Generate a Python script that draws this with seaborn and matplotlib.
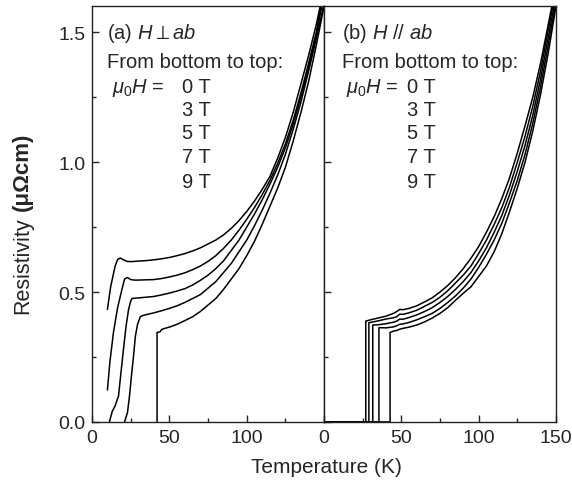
import pandas as pd
import seaborn as sns
import matplotlib.pyplot as plt
from matplotlib.ticker import MultipleLocator

# fields (T), bottom to top
fields = ["0 T", "3 T", "5 T", "7 T", "9 T"]

# (a) H perp ab : temperature (K) / resistivity (uOhm cm)
a0_T = [42, 42, 44, 45, 47, 50, 55, 60, 65, 70, 75, 80, 85, 90, 95, 100, 105, 110, 115, 120, 125, 130, 135, 140, 145, 150]
a0_r = [0.0, 0.344, 0.347, 0.356, 0.36, 0.365, 0.376, 0.39, 0.405, 0.425, 0.45, 0.475, 0.51, 0.55, 0.59, 0.64, 0.695, 0.76, 0.83, 0.90, 0.98, 1.08, 1.19, 1.31, 1.45, 1.60]
a3_T = [21, 22.9, 24.2, 25.5, 26.8, 28, 29.4, 31.2, 33, 35, 40, 45, 50, 55, 60, 65, 70, 75, 80, 85, 90, 95, 100, 105, 110, 115, 120, 125, 130, 135, 140, 145, 150]
a3_r = [0.0, 0.037, 0.10, 0.18, 0.254, 0.33, 0.376, 0.405, 0.41, 0.413, 0.42, 0.428, 0.437, 0.447, 0.46, 0.475, 0.49, 0.515, 0.54, 0.575, 0.61, 0.655, 0.70, 0.755, 0.815, 0.88, 0.95, 1.03, 1.125, 1.23, 1.35, 1.475, 1.61]
a5_T = [11.2, 13, 14.9, 17.1, 18.5, 20.3, 22, 23.6, 25, 25.8, 29, 35, 40, 45, 50, 55, 60, 65, 70, 75, 80, 85, 90, 95, 100, 105, 110, 115, 120, 125, 130, 135, 140, 145, 148.5]
a5_r = [0.0, 0.04, 0.062, 0.10, 0.18, 0.28, 0.37, 0.433, 0.466, 0.475, 0.477, 0.48, 0.483, 0.489, 0.496, 0.504, 0.513, 0.527, 0.545, 0.565, 0.59, 0.62, 0.66, 0.70, 0.75, 0.80, 0.855, 0.915, 0.98, 1.055, 1.145, 1.25, 1.365, 1.49, 1.60]
a7_T = [9.9, 11.5, 13.8, 16.5, 19.3, 21, 22.7, 25, 27, 30, 35, 40, 45, 50, 55, 60, 65, 70, 75, 80, 85, 90, 95, 100, 105, 110, 115, 120, 125, 130, 135, 140, 145, 148]
a7_r = [0.123, 0.23, 0.344, 0.44, 0.51, 0.55, 0.556, 0.548, 0.546, 0.546, 0.547, 0.548, 0.552, 0.558, 0.565, 0.574, 0.586, 0.600, 0.618, 0.64, 0.668, 0.70, 0.738, 0.78, 0.825, 0.875, 0.93, 0.995, 1.07, 1.16, 1.265, 1.38, 1.50, 1.60]
a9_T = [9.9, 12, 14.9, 16.5, 18.2, 20, 22.5, 25, 30, 35, 40, 45, 50, 55, 60, 65, 70, 75, 80, 85, 90, 95, 100, 105, 110, 115, 120, 125, 130, 135, 140, 145, 147.5]
a9_r = [0.433, 0.52, 0.60, 0.625, 0.631, 0.625, 0.618, 0.617, 0.619, 0.621, 0.624, 0.628, 0.633, 0.64, 0.648, 0.658, 0.670, 0.685, 0.700, 0.72, 0.745, 0.775, 0.81, 0.85, 0.895, 0.945, 1.015, 1.095, 1.19, 1.30, 1.41, 1.53, 1.60]

# (b) H // ab
b0_T = [0, 42.7, 42.7, 45, 47, 49, 51, 55, 60, 65, 70, 75, 80, 85, 90, 95, 100, 105, 110, 115, 120, 125, 130, 135, 140, 145, 150]
b0_r = [0, 0, 0.344, 0.35, 0.352, 0.357, 0.36, 0.365, 0.373, 0.385, 0.40, 0.418, 0.44, 0.468, 0.495, 0.52, 0.56, 0.60, 0.655, 0.725, 0.81, 0.90, 1.00, 1.12, 1.26, 1.42, 1.60]
b3_T = [0, 35.5, 35.5, 40, 45, 47, 49, 51, 55, 60, 65, 70, 75, 80, 85, 90, 95, 100, 105, 110, 115, 120, 125, 130, 135, 140, 145, 150]
b3_r = [0, 0, 0.363, 0.362, 0.366, 0.37, 0.376, 0.377, 0.383, 0.393, 0.405, 0.418, 0.437, 0.46, 0.485, 0.515, 0.55, 0.595, 0.645, 0.70, 0.765, 0.845, 0.93, 1.03, 1.15, 1.29, 1.45, 1.62]
b5_T = [0, 31.5, 31.5, 35, 40, 45, 47, 49, 51, 55, 60, 65, 70, 75, 80, 85, 90, 95, 100, 105, 110, 115, 120, 125, 130, 135, 140, 145, 150]
b5_r = [0, 0, 0.373, 0.374, 0.378, 0.384, 0.388, 0.396, 0.395, 0.402, 0.412, 0.425, 0.44, 0.46, 0.483, 0.51, 0.54, 0.575, 0.62, 0.67, 0.73, 0.795, 0.875, 0.965, 1.065, 1.18, 1.32, 1.48, 1.64]
b7_T = [0, 29, 29, 30, 35, 40, 45, 47, 49, 51, 55, 60, 65, 70, 75, 80, 85, 90, 95, 100, 105, 110, 115, 120, 125, 130, 135, 140, 145, 150]
b7_r = [0, 0, 0.382, 0.383, 0.389, 0.396, 0.401, 0.405, 0.415, 0.414, 0.42, 0.43, 0.445, 0.46, 0.48, 0.505, 0.535, 0.565, 0.60, 0.648, 0.70, 0.76, 0.825, 0.905, 1.00, 1.10, 1.215, 1.35, 1.51, 1.66]
b9_T = [0, 27, 27, 30, 35, 40, 45, 47, 49, 51, 55, 60, 65, 70, 75, 80, 85, 90, 95, 100, 105, 110, 115, 120, 125, 130, 135, 140, 145, 150]
b9_r = [0, 0, 0.388, 0.393, 0.400, 0.407, 0.418, 0.425, 0.433, 0.432, 0.437, 0.447, 0.462, 0.478, 0.50, 0.525, 0.555, 0.59, 0.63, 0.675, 0.73, 0.79, 0.86, 0.94, 1.035, 1.14, 1.25, 1.38, 1.53, 1.68]


def long_df(pairs):
    parts = []
    for name, (t, r) in zip(fields, pairs):
        parts.append(pd.DataFrame({"T": t, "rho": r, "field": name}))
    return pd.concat(parts, ignore_index=True)


df_a = long_df([(a0_T, a0_r), (a3_T, a3_r), (a5_T, a5_r), (a7_T, a7_r), (a9_T, a9_r)])
df_b = long_df([(b0_T, b0_r), (b3_T, b3_r), (b5_T, b5_r), (b7_T, b7_r), (b9_T, b9_r)])

sns.set_style("ticks")
plt.rcParams['font.family'] = ['Liberation Sans', 'DejaVu Sans']
plt.rcParams['mathtext.fontset'] = 'custom'
plt.rcParams['mathtext.rm'] = 'Liberation Sans'
plt.rcParams['mathtext.it'] = 'Liberation Sans:italic'

fig, (ax1, ax2) = plt.subplots(1, 2, figsize=(5.72, 4.85), dpi=100, sharey=True)
fig.subplots_adjust(left=0.161, right=0.972, bottom=0.128, top=0.985, wspace=0)

for ax, df in [(ax1, df_a), (ax2, df_b)]:
    sns.lineplot(data=df, x="T", y="rho", hue="field", palette=["black"] * 5,
                 estimator=None, sort=False, legend=False, linewidth=1.1, ax=ax)
    ax.set_xlim(0, 150)
    ax.set_ylim(0, 1.6)
    ax.set_xlabel("")
    ax.set_ylabel("")
    ax.xaxis.set_minor_locator(MultipleLocator(25))
    ax.yaxis.set_minor_locator(MultipleLocator(0.25))
    ax.tick_params(which="major", direction="in", length=5, width=1, labelsize=14, pad=5)
    ax.tick_params(which="minor", direction="in", length=3, width=1)
    for s in ax.spines.values():
        s.set_linewidth(1.0)
        s.set_color("#222222")

ax1.set_xticks([0, 50, 100])
ax2.set_xticks([0, 50, 100, 150])
ax1.set_yticks([0.0, 0.5, 1.0, 1.5])
ax1.set_yticklabels(["0.0", "0.5", "1.0", "1.5"])
ax2.tick_params(axis="y", labelleft=False)

fs = 14.5
ys = [1.203, 1.114, 1.022, 0.925]
ax1.text(9.7, 1.499, r"(a) $\mathit{H}\perp\mathit{ab}$", fontsize=fs, va="center")
ax1.text(9.7, 1.387, "From bottom to top:", fontsize=fs, va="center")
ax1.text(13, 1.291, r"$\mu_{\mathit{0}}\mathit{H}$ =", fontsize=fs, va="center")
ax1.text(58.2, 1.291, fields[0], fontsize=fs, va="center")
for y, f in zip(ys, fields[1:]):
    ax1.text(58.2, y, f, fontsize=fs, va="center")

ax2.text(11.4, 1.499, r"(b) $\mathit{H\ //\ ab}$", fontsize=fs, va="center")
ax2.text(11.4, 1.387, "From bottom to top:", fontsize=fs, va="center")
ax2.text(14.5, 1.291, r"$\mu_{\mathit{0}}\mathit{H}$ =", fontsize=fs, va="center")
ax2.text(53.5, 1.291, fields[0], fontsize=fs, va="center")
for y, f in zip(ys, fields[1:]):
    ax2.text(53.5, y, f, fontsize=fs, va="center")

fig.text(23 / 572, 1 - 266 / 485, "Resistivity", rotation=90, ha="center", va="center", fontsize=15.5)
fig.text(22 / 572, 1 - 172 / 485, "(μΩcm)", rotation=90, ha="center", va="center",
         fontsize=16, fontweight="bold")
fig.text(326 / 572, 1 - 468 / 485, "Temperature (K)", ha="center", va="center", fontsize=15)

fig.savefig("out.png", dpi=100)
